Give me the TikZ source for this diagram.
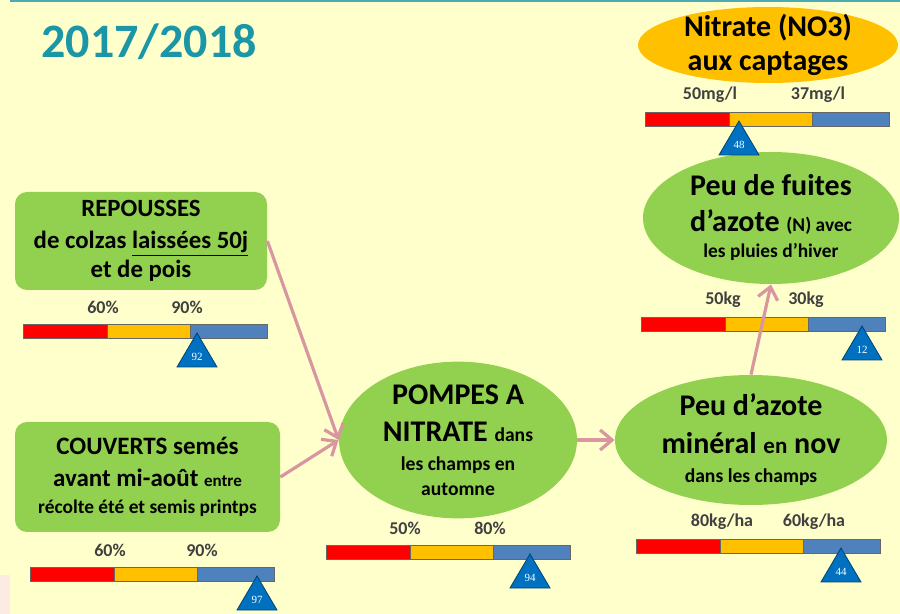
\documentclass[tikz,border=0pt]{standalone}
\usepackage{fontspec}
\setmainfont{Carlito}
\newfontfamily\chiffre{Liberation Serif}
\usetikzlibrary{shapes.geometric,arrows.meta,calc}

\definecolor{fond}{RGB}{255,255,204}
\definecolor{titre}{RGB}{26,150,166}
\definecolor{filet}{RGB}{75,172,178}
\definecolor{vert}{RGB}{146,208,80}
\definecolor{jaune}{RGB}{255,192,0}
\definecolor{rouge}{RGB}{255,0,0}
\definecolor{bleu}{RGB}{79,129,189}
\definecolor{bleufonce}{RGB}{0,112,192}
\definecolor{rose}{RGB}{217,150,160}
\definecolor{coin}{RGB}{252,234,228}

\newcommand\taille[1]{\fontsize{#1}{12}\selectfont}

\tikzset{
  bulle/.style={ellipse, fill=vert, inner sep=0pt, align=center, font=\bfseries},
  boite/.style={rectangle, rounded corners=6pt, fill=vert, inner sep=0pt, align=center, font=\bfseries},
  fleche/.style={rose, line width=1.6pt, -{Straight Barb[length=6pt,width=10pt]}},
  seuil/.style={font=\bfseries\fontsize{9}{10}\selectfont, text=black!75},
  curseur/.style={fill=bleufonce, draw=bleufonce!60!black, line width=0.4pt},
}

\begin{document}
\begin{tikzpicture}[x=0.5pt,y=-0.5pt]

\fill[fond] (0,0) rectangle (900,614);
\useasboundingbox (0,0) rectangle (900,614);
\fill[coin] (0,575) rectangle (10,614);
\draw[filet, line width=1.5pt] (10,1) -- (900,1);

\node[text=titre, font=\bfseries\fontsize{24}{28}\selectfont] (annee) at (149,42) {2017/2018};

\node[bulle, fill=jaune, minimum width=130pt, minimum height=38pt, inner ysep=-2pt] (nitrate) at (768,45)
  {\taille{15}Nitrate (NO3)\\[5pt] \taille{15}aux captages};
\node[bulle, minimum width=128pt, minimum height=66pt] (fuites) at (771,218)
  {\taille{15}Peu de fuites\\[6pt] \taille{15}d'azote {\taille{9.7}(N) avec}\\[1pt] \taille{9.7}les pluies d'hiver};
\node[bulle, minimum width=136pt, minimum height=64pt] (azote) at (751,440)
  {\taille{15}Peu d'azote\\[7pt] \taille{15}minéral {\taille{11.5}en} nov\\[2.5pt] \taille{9.8}dans les champs};
\node[bulle, minimum width=119pt, minimum height=72pt] (pompes) at (458,440)
  {\taille{15}POMPES A\\[6.5pt] \taille{15}NITRATE {\taille{9.8}dans}\\[2.5pt] \taille{9.8}les champs en\\[0.5pt] \taille{9.8}automne};
\node[boite, minimum width=126pt, minimum height=49pt] (repousses) at (141,241)
  {\taille{12.4}REPOUSSES\\[4pt] \taille{12.4}de colzas \underline{laissées 50j}\\[0.5pt] \taille{12.4}et de pois};
\node[boite, minimum width=132.5pt, minimum height=55pt] (couverts) at (147.5,477)
  {\taille{12.5}COUVERTS semés\\[4pt] \taille{12.5}avant mi-août {\taille{8.5}entre}\\[1.5pt] \taille{9.7}récolte été et semis printps};

\foreach \n/\x/\y/\la/\xa/\lb/\xb/\xt/\v in {
  nit/645/112/50mg\slash l/710/37mg\slash l/818/739/48,
  fui/641/317/50kg/723/30kg/806/862/12,
  azo/636/539/80kg\slash ha/722/60kg\slash ha/814/841/44,
  pom/326/545/50\%/405/80\%/490/530/94,
  rep/23/324/60\%/103/90\%/187/197/92,
  cou/30/567/60\%/110/90\%/202/257/97}
{
  \fill[rouge] (\x,\y) rectangle ++(84,14);
  \fill[jaune] (\x+84,\y) rectangle ++(83,14);
  \fill[bleu] (\x+167,\y) rectangle ++(77,14);
  \draw[black!60, line width=0.4pt] (\x,\y) rectangle ++(244,14) (\x+84,\y) -- ++(0,14) (\x+167,\y) -- ++(0,14);
  \node[seuil] (sa\n) at (\xa,\y-17) {\la};
  \node[seuil] (sb\n) at (\xb,\y-17) {\lb};
  \draw[curseur] (\xt,\y+9) -- ++(-20,34) -- ++(40,0) -- cycle;
  \node[text=white, font=\chiffre\fontsize{5.5}{6}\selectfont] (v\n) at (\xt,\y+33) {\v};
}

\draw[fleche] (repousses.east) -- (pompes.west);
\draw[fleche] (couverts.east) -- (pompes.west);
\draw[fleche] (pompes.east) -- (azote.west);
\draw[fleche] (azote.north) -- (fuites.south);

\end{tikzpicture}
\end{document}
